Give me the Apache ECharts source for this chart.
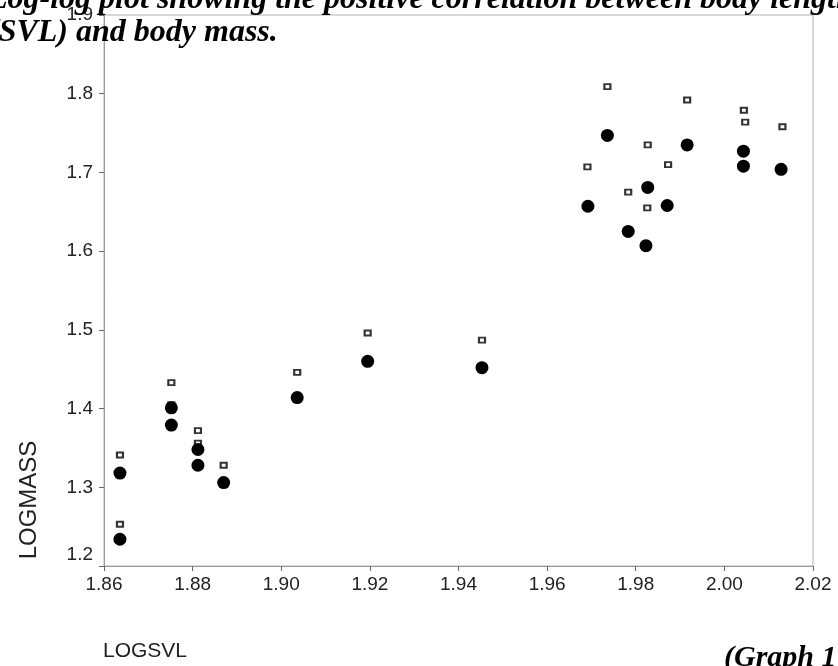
<!DOCTYPE html>
<html>
<head>
<meta charset="utf-8">
<title>LOGSVL vs LOGMASS</title>
<script src="https://cdn.jsdelivr.net/npm/echarts@6/dist/echarts.min.js"></script>
<style>
    html, body { margin: 0; padding: 0; background: #fff; }
    #main { width: 838px; height: 666px; }
</style>
</head>
<body>
<div id="main"></div>
<script>
// 数据：LOGSVL / LOGMASS
var squareX = [1.8636, 1.8636, 1.8752, 1.8752, 1.8812, 1.8812, 1.8870, 1.9036, 1.9195, 1.9453,
               1.9736, 1.9916, 2.0044, 2.0047, 2.0131, 1.9827, 1.9691, 1.9873, 1.9783, 1.9826];
var squareY = [1.341, 1.253, 1.433, 1.405, 1.372, 1.356, 1.328, 1.446, 1.496, 1.487,
               1.809, 1.792, 1.779, 1.764, 1.758, 1.735, 1.707, 1.710, 1.675, 1.655];
var dotX = [1.8636, 1.8636, 1.8752, 1.8752, 1.8812, 1.8812, 1.8870, 1.9036, 1.9195, 1.9453,
            1.9736, 1.9916, 2.0043, 2.0043, 2.0128, 1.9827, 1.9692, 1.9871, 1.9783, 1.9823];
var dotY = [1.318, 1.234, 1.401, 1.379, 1.348, 1.328, 1.306, 1.414, 1.460, 1.452,
            1.747, 1.735, 1.727, 1.708, 1.704, 1.681, 1.657, 1.658, 1.625, 1.607];

var titleLines = ['Log-log plot showing the positive correlation between body length',
                  '(SVL) and body mass.'];
var xName = 'LOGSVL';
var yName = 'LOGMASS';
var footNote = '(Graph 1)';

var pairs = function (xs, ys) {
    var out = [];
    for (var i = 0; i < xs.length; i++) {
        out.push([xs[i], ys[i]]);
    }
    return out;
};

var myChart = echarts.init(document.getElementById('main'));

var labelFont = 'Liberation Sans';
var titleFont = 'Liberation Serif';

var option = {
    animation: false,
    backgroundColor: '#fff',
    grid: {
        left: 104,
        right: 25,
        top: 15,
        bottom: 100,
        show: true,
        borderColor: '#b0b0b0',
        borderWidth: 1
    },
    xAxis: {
        type: 'value',
        min: 1.86,
        max: 2.02,
        interval: 0.02,
        splitLine: { show: false },
        axisLine: { lineStyle: { color: '#999', width: 1 } },
        axisTick: { show: true, inside: false, length: 5, lineStyle: { color: '#666' } },
        axisLabel: {
            margin: 9,
            color: '#222',
            fontSize: 19,
            fontFamily: labelFont,
            formatter: function (v) { return v.toFixed(2); }
        }
    },
    yAxis: {
        type: 'value',
        min: 1.2,
        max: 1.9,
        interval: 0.1,
        splitLine: { show: false },
        axisLine: { show: true, lineStyle: { color: '#999', width: 1 } },
        axisTick: { show: true, inside: false, length: 5, lineStyle: { color: '#666' } },
        axisLabel: {
            margin: 11,
            color: '#222',
            fontSize: 19,
            fontFamily: labelFont,
            formatter: function (v) {
                var s = v.toFixed(1);
                // 1.2 在原图中略高于刻度
                return Math.abs(v - 1.2) < 1e-6 ? '{low|' + s + '}' : s;
            },
            rich: {
                low: { fontSize: 19, fontFamily: labelFont, color: '#222', padding: [0, 0, 22, 0] }
            }
        }
    },
    series: [
        {
            name: 'square',
            type: 'scatter',
            symbol: 'rect',
            symbolSize: [6, 5],
            data: pairs(squareX, squareY),
            itemStyle: { color: '#fff', borderColor: '#000', borderWidth: 2 },
            z: 2
        },
        {
            name: 'dot',
            type: 'scatter',
            symbol: 'circle',
            symbolSize: 13,
            data: pairs(dotX, dotY),
            itemStyle: { color: '#000', opacity: 1 },
            z: 3
        }
    ],
    graphic: [
        {
            type: 'text', x: -12, y: 0, z: 100,
            style: {
                text: titleLines[0], fill: '#000', font: 'italic bold 32px "' + titleFont + '"',
                verticalAlign: 'middle'
            }
        },
        {
            type: 'text', x: -12, y: 33, z: 100,
            style: {
                text: titleLines[1], fill: '#000', font: 'italic bold 32px "' + titleFont + '"',
                verticalAlign: 'middle'
            }
        },
        {
            type: 'text', x: 29, y: 500, rotation: Math.PI / 2, z: 100,
            style: {
                text: yName, fill: '#222', font: '24px "' + labelFont + '"',
                align: 'center', verticalAlign: 'middle'
            }
        },
        {
            type: 'text', x: 103, y: 651, z: 100,
            style: {
                text: xName, fill: '#222', font: '21px "' + labelFont + '"',
                align: 'left', verticalAlign: 'middle'
            }
        },
        {
            type: 'text', x: 724, y: 658, z: 100,
            style: {
                text: footNote, fill: '#000', font: 'italic bold 30px "' + titleFont + '"',
                align: 'left', verticalAlign: 'middle'
            }
        }
    ]
};

window.addEventListener('resize', function () {
    myChart.resize();
});
myChart.setOption(option);
</script>
</body>
</html>
